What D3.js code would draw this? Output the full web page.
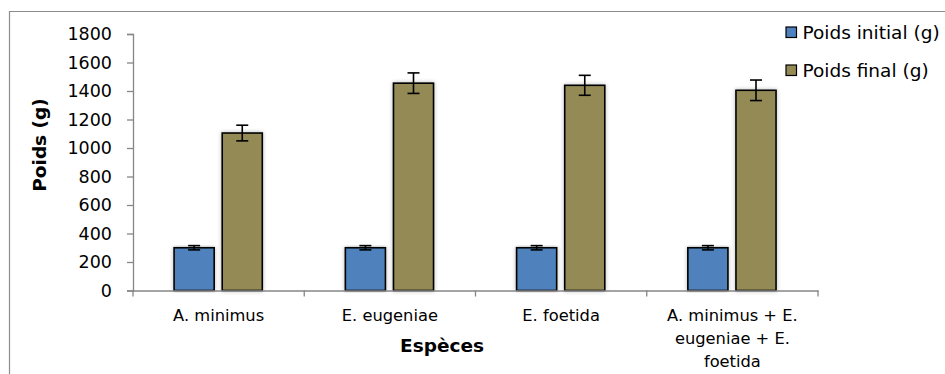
<!DOCTYPE html>
<html>
<head>
<meta charset="utf-8">
<script src="https://cdn.jsdelivr.net/npm/d3@7"></script>
<style>
  body { margin: 0; background: #fff; }
  svg { display: block; font-family: "DejaVu Sans", Verdana, sans-serif; }
</style>
</head>
<body>
<svg id="chart" width="945" height="374"></svg>
<script>
const categories = ['A. minimus', 'E. eugeniae', 'E. foetida', 'A. minimus + E. eugeniae + E. foetida'];
const categoryLines = [['A. minimus'], ['E. eugeniae'], ['E. foetida'], ['A. minimus + E.', 'eugeniae + E.', 'foetida']];
const seriesNames = ['Poids initial (g)', 'Poids final (g)'];
const poidsInitial = [300, 300, 300, 300];
const poidsInitialErr = [15, 15, 15, 15];
const poidsFinal = [1105, 1455, 1440, 1405];
const poidsFinalErr = [55, 72, 70, 72];
const yTicks = [0, 200, 400, 600, 800, 1000, 1200, 1400, 1600, 1800];
const colors = ['#4f81bd', '#948a54'];

const svg = d3.select('#chart');
const plotLeft = 133;
const plotRight = 818;
const plotTop = 34;
const plotBottom = 290.5;

// outer frame (only left and top visible in the crop)
svg.append('path')
  .attr('d', 'M9.5,374 L9.5,11.5 L945,11.5')
  .attr('fill', 'none')
  .attr('stroke', '#8c8c8c')
  .attr('stroke-width', 1.2);

const defs = svg.append('defs');
const shadow = defs.append('filter').attr('id', 'shadow')
  .attr('x', '-30%').attr('y', '-5%').attr('width', '160%').attr('height', '110%');
shadow.append('feGaussianBlur').attr('in', 'SourceAlpha').attr('stdDeviation', 2.2).attr('result', 'blur');
shadow.append('feComponentTransfer').attr('in', 'blur').attr('result', 'soft')
  .append('feFuncA').attr('type', 'linear').attr('slope', 0.28);
const merge = shadow.append('feMerge');
merge.append('feMergeNode').attr('in', 'soft');
merge.append('feMergeNode').attr('in', 'SourceGraphic');

const x0 = d3.scaleBand().domain(categories).range([plotLeft, plotRight]).padding(0);
const bw = x0.bandwidth();
const x1 = d3.scaleBand().domain(seriesNames).range([bw * 0.24, bw * 0.755]).paddingInner(0.167);
const y = d3.scaleLinear().domain([0, 1800]).range([plotBottom, plotTop]);

// y axis
const yAxis = svg.append('g')
  .attr('transform', `translate(${plotLeft},0)`)
  .call(d3.axisLeft(y).tickValues(yTicks).tickSize(6).tickPadding(15).tickFormat(d3.format('d')));
yAxis.select('.domain').attr('stroke', '#868686').attr('stroke-width', 1.3);
yAxis.selectAll('.tick line').attr('stroke', '#868686').attr('stroke-width', 1.3);
yAxis.selectAll('.tick text').attr('font-size', 17.5).attr('fill', '#000')
  .attr('font-family', '"DejaVu Sans", Verdana, sans-serif');

// bars
const rows = categories.map((c, i) => ({
  cat: c,
  vals: [
    { s: seriesNames[0], v: poidsInitial[i], e: poidsInitialErr[i], c: colors[0] },
    { s: seriesNames[1], v: poidsFinal[i], e: poidsFinalErr[i], c: colors[1] },
  ],
}));

const groups = svg.selectAll('g.grp')
  .data(rows)
  .enter()
  .append('g')
  .attr('class', 'grp')
  .attr('transform', d => `translate(${x0(d.cat)},0)`);

groups.selectAll('rect')
  .data(d => d.vals)
  .enter()
  .append('rect')
  .attr('x', d => x1(d.s))
  .attr('y', d => y(d.v))
  .attr('width', x1.bandwidth())
  .attr('height', d => y(0) - y(d.v))
  .attr('fill', d => d.c)
  .attr('stroke', '#000')
  .attr('stroke-width', 1.6)
  .attr('filter', 'url(#shadow)');

// error bars
const err = groups.selectAll('g.err')
  .data(d => d.vals)
  .enter()
  .append('g')
  .attr('class', 'err')
  .attr('stroke', '#000')
  .attr('stroke-width', 1.6);
const cx = d => x1(d.s) + x1.bandwidth() / 2;
err.append('line')
  .attr('x1', cx).attr('x2', cx)
  .attr('y1', d => y(d.v + d.e)).attr('y2', d => y(d.v - d.e));
err.append('line')
  .attr('x1', d => cx(d) - 6).attr('x2', d => cx(d) + 6)
  .attr('y1', d => y(d.v + d.e)).attr('y2', d => y(d.v + d.e));
err.append('line')
  .attr('x1', d => cx(d) - 6).attr('x2', d => cx(d) + 6)
  .attr('y1', d => y(d.v - d.e)).attr('y2', d => y(d.v - d.e));

// x axis
const xAxis = svg.append('g')
  .attr('transform', `translate(0,${plotBottom})`)
  .call(d3.axisBottom(x0).tickSize(0).tickFormat(''));
xAxis.select('.domain').attr('stroke', '#868686').attr('stroke-width', 1.3);
xAxis.selectAll('.tick').remove();

const boundaries = categories.map(c => x0(c)).concat([plotRight]);
xAxis.selectAll('line.sep')
  .data(boundaries)
  .enter()
  .append('line')
  .attr('class', 'sep')
  .attr('x1', d => d).attr('x2', d => d)
  .attr('y1', 0).attr('y2', 6)
  .attr('stroke', '#868686')
  .attr('stroke-width', 1.3);

const labels = svg.selectAll('text.cat')
  .data(categories)
  .enter()
  .append('text')
  .attr('class', 'cat')
  .attr('text-anchor', 'middle')
  .attr('font-size', 16.3)
  .attr('fill', '#000');
labels.each(function (c, i) {
  d3.select(this).selectAll('tspan')
    .data(categoryLines[i])
    .enter()
    .append('tspan')
    .attr('x', x0(c) + bw / 2)
    .attr('y', (d, j) => 321 + j * 23)
    .text(d => d);
});

// axis titles
svg.append('text')
  .attr('x', 442)
  .attr('y', 352)
  .attr('text-anchor', 'middle')
  .attr('font-size', 18.5)
  .attr('font-weight', 'bold')
  .text('Espèces');

svg.append('text')
  .attr('transform', 'translate(46,145) rotate(-90)')
  .attr('text-anchor', 'middle')
  .attr('font-size', 18.5)
  .attr('font-weight', 'bold')
  .text('Poids (g)');

// legend
const legend = svg.selectAll('g.leg')
  .data(seriesNames)
  .enter()
  .append('g')
  .attr('class', 'leg')
  .attr('transform', (d, i) => `translate(786,${27 + i * 38})`);
legend.append('rect')
  .attr('width', 10.5).attr('height', 10.5)
  .attr('fill', (d, i) => colors[i])
  .attr('stroke', '#000')
  .attr('stroke-width', 1.2);
legend.append('text')
  .attr('x', 16.5)
  .attr('y', 12)
  .attr('font-size', 18.5)
  .text(d => d);
</script>
</body>
</html>
